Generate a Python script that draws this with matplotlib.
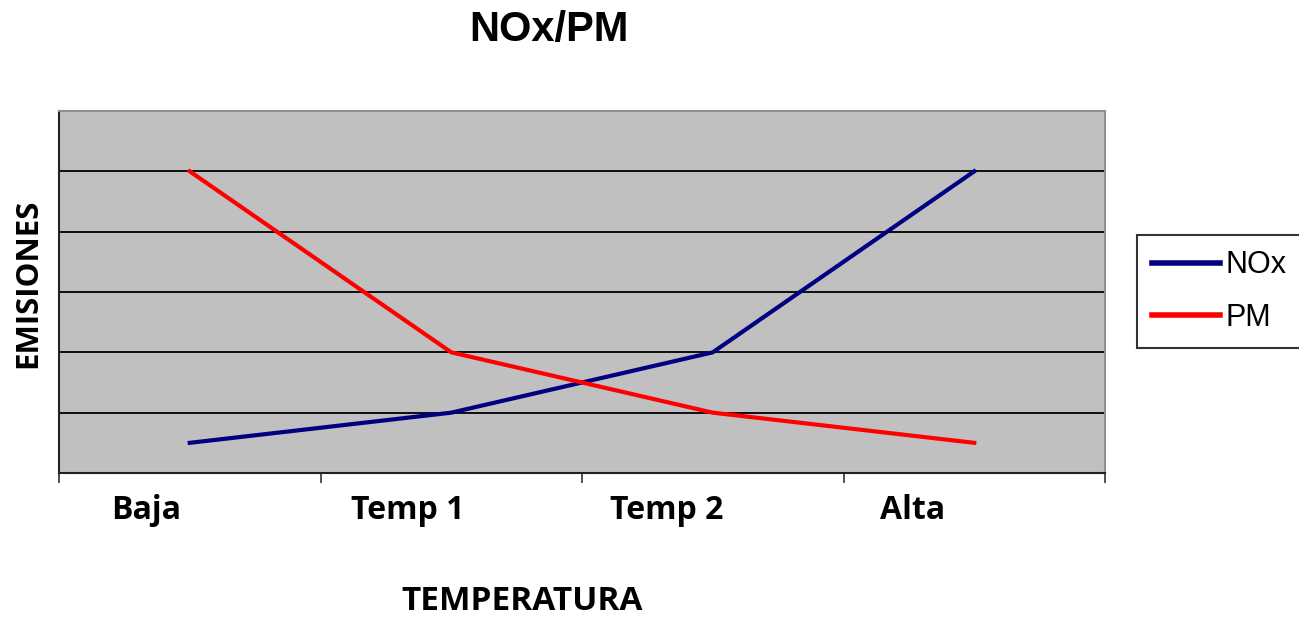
import matplotlib
matplotlib.use('Agg')
import matplotlib.pyplot as plt
from matplotlib.transforms import ScaledTranslation

categorias = ['Baja', 'Temp 1', 'Temp 2', 'Alta']
nox = [0.5, 1, 2, 5]
pm = [5, 2, 1, 0.5]

fig = plt.figure(figsize=(12.99, 6.17), dpi=100)
ax = fig.add_axes([59/1299, 1 - 473/617, (1105-59)/1299, (473-111)/617])
ax.set_facecolor('#C0C0C0')

x = list(range(len(categorias)))
ax.plot(x, nox, color='#000080', lw=3, label='NOx', zorder=3)
ax.plot(x, pm, color='#FF0000', lw=3, label='PM', zorder=3)

ax.set_xlim(-0.5, 3.5)
ax.set_ylim(0, 6)
for yy in range(1, 6):
    ax.axhline(yy, color='black', lw=1.3, zorder=1)

ax.set_xticks([-0.5, 0.5, 1.5, 2.5, 3.5])
ax.set_xticklabels([])
ax.tick_params(axis='x', which='major', direction='out', length=7, width=1.2, color='#333333')
ax.set_xticks(x, minor=True)
ax.set_xticklabels(categorias, minor=True, fontsize=23, fontweight='bold', family='Open Sans')
ax.tick_params(axis='x', which='minor', length=0, pad=15)
# labels sit a bit left of the points in the original
for lab, dx in zip(ax.get_xticklabels(minor=True), [-0.44, -0.44, -0.46, -0.62]):
    lab.set_transform(lab.get_transform() + ScaledTranslation(dx, 0, fig.dpi_scale_trans))
ax.set_yticks([])

ax.spines['top'].set_color('#909090')
ax.spines['right'].set_color('#909090')
ax.spines['left'].set_color('#222222')
ax.spines['bottom'].set_color('#222222')
for s in ax.spines.values():
    s.set_linewidth(1.5)

fig.text(549/1299, 1 - 30/617, 'NOx/PM', ha='center', va='center',
         fontsize=30, fontweight='bold', family='Liberation Sans')
fig.text(522/1299, 1 - 602/617, 'TEMPERATURA', ha='center', va='center',
         fontsize=24, fontweight='bold', family='Open Sans')
fig.text(28/1299, 1 - 283/617, 'EMISIONES', ha='center', va='center', rotation=90,
         fontsize=22.5, fontweight='bold', family='Open Sans')

leg = fig.legend(loc='upper left', bbox_to_anchor=(1137/1299, 1 - 235/617),
                 prop={'family': 'Liberation Sans', 'size': 22},
                 frameon=True, fancybox=False, handlelength=2.2, handletextpad=0.2,
                 borderpad=0.5, labelspacing=0.75, borderaxespad=0)
leg.get_frame().set_edgecolor('black')
leg.get_frame().set_linewidth(1.5)
for h in leg.get_lines():
    h.set_linewidth(4)

fig.savefig('out.png', dpi=100)
